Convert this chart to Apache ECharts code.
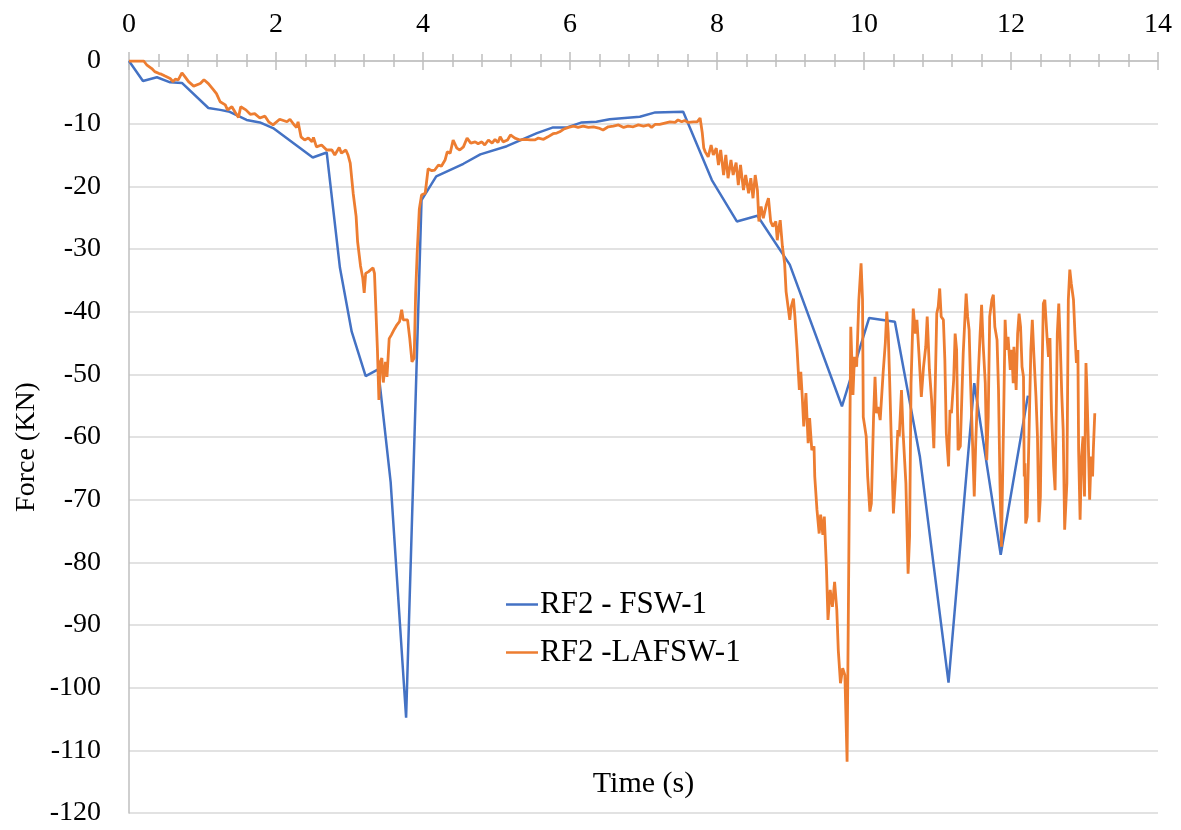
<!DOCTYPE html>
<html>
<head>
<meta charset="utf-8">
<script src="https://cdn.jsdelivr.net/npm/echarts@6/dist/echarts.min.js"></script>
<style>html,body{margin:0;padding:0;background:#fff}#c{width:1181px;height:830px}</style>
</head>
<body>
<div id="c"></div>
<script>
// ---- data ----
var seriesNames = ['RF2 - FSW-1', 'RF2 -LAFSW-1'];
var xTicks = [0, 2, 4, 6, 8, 10, 12, 14];
var yTicks = [0, -10, -20, -30, -40, -50, -60, -70, -80, -90, -100, -110, -120];
var xTitle = 'Time (s)';
var yTitle = 'Force (KN)';

var fswTime = [0,0.19,0.38,0.56,0.72,1.08,1.24,1.37,1.6,1.78,1.96,2.5,2.69,2.87,3.03,3.22,3.39,3.56,3.77,3.98,4.18,4.55,4.78,5.14,5.55,5.77,5.96,6.16,6.36,6.54,6.95,7.16,7.54,7.93,8.27,8.55,8.99,9.7,10.07,10.42,10.76,11.15,11.5,11.86,12.23];
var fswForce = [0,-3.2,-2.6,-3.4,-3.5,-7.5,-7.8,-8.1,-9.4,-9.8,-10.7,-15.4,-14.6,-33.0,-43.2,-50.3,-49.2,-67.2,-104.8,-22.2,-18.4,-16.4,-14.9,-13.6,-11.5,-10.6,-10.6,-9.8,-9.7,-9.3,-8.9,-8.2,-8.1,-19.0,-25.6,-24.7,-32.5,-55.1,-41.0,-41.6,-63.1,-99.2,-51.4,-78.8,-53.4];

var lafswTime = [0,0.2,0.24,0.31,0.35,0.41,0.44,0.49,0.56,0.6,0.63,0.67,0.72,0.76,0.81,0.88,0.97,1.02,1.08,1.15,1.19,1.24,1.31,1.34,1.4,1.44,1.49,1.52,1.59,1.65,1.71,1.78,1.85,1.9,1.96,2.05,2.1,2.15,2.19,2.24,2.28,2.3,2.34,2.39,2.44,2.49,2.51,2.55,2.62,2.69,2.76,2.8,2.86,2.89,2.95,2.98,3.01,3.05,3.09,3.11,3.13,3.15,3.18,3.2,3.22,3.26,3.32,3.34,3.36,3.38,3.4,3.42,3.44,3.46,3.49,3.51,3.54,3.57,3.61,3.64,3.68,3.71,3.73,3.79,3.82,3.85,3.88,3.9,3.92,3.95,3.98,4.03,4.07,4.12,4.16,4.21,4.25,4.3,4.33,4.37,4.41,4.46,4.5,4.55,4.6,4.65,4.71,4.75,4.8,4.84,4.89,4.94,4.98,5.02,5.05,5.09,5.15,5.19,5.25,5.32,5.39,5.46,5.52,5.57,5.64,5.7,5.77,5.82,5.86,5.91,5.98,6.05,6.11,6.18,6.25,6.32,6.39,6.45,6.52,6.59,6.66,6.73,6.79,6.86,6.93,7.0,7.07,7.11,7.16,7.22,7.29,7.36,7.43,7.47,7.52,7.56,7.61,7.68,7.73,7.77,7.8,7.82,7.84,7.88,7.92,7.95,7.99,8.02,8.05,8.09,8.12,8.15,8.19,8.22,8.26,8.29,8.32,8.36,8.39,8.43,8.46,8.49,8.52,8.55,8.57,8.6,8.63,8.67,8.7,8.73,8.76,8.8,8.82,8.84,8.86,8.89,8.92,8.94,8.96,8.99,9.01,9.04,9.06,9.09,9.12,9.14,9.16,9.18,9.21,9.24,9.26,9.29,9.32,9.33,9.36,9.39,9.41,9.44,9.46,9.49,9.51,9.54,9.57,9.6,9.63,9.65,9.68,9.71,9.74,9.77,9.82,9.85,9.87,9.9,9.93,9.96,9.98,9.99,10.03,10.05,10.08,10.1,10.13,10.15,10.17,10.19,10.22,10.26,10.29,10.31,10.33,10.35,10.37,10.4,10.43,10.46,10.48,10.51,10.53,10.57,10.6,10.62,10.64,10.67,10.7,10.72,10.75,10.78,10.81,10.84,10.86,10.89,10.92,10.95,10.97,10.99,11.01,11.03,11.05,11.08,11.1,11.12,11.15,11.17,11.19,11.22,11.24,11.26,11.28,11.31,11.33,11.35,11.37,11.39,11.41,11.43,11.45,11.48,11.5,11.52,11.55,11.58,11.6,11.62,11.65,11.67,11.69,11.71,11.74,11.76,11.78,11.81,11.83,11.85,11.87,11.9,11.92,11.94,11.96,11.99,12.01,12.03,12.04,12.07,12.09,12.11,12.13,12.15,12.17,12.18,12.19,12.2,12.22,12.24,12.27,12.29,12.31,12.34,12.36,12.38,12.4,12.42,12.44,12.46,12.49,12.51,12.53,12.55,12.58,12.6,12.62,12.63,12.65,12.67,12.69,12.71,12.73,12.76,12.78,12.8,12.82,12.85,12.87,12.89,12.91,12.92,12.94,12.96,12.98,13.0,13.02,13.03,13.05,13.07,13.09,13.11,13.12,13.14];
var lafswForce = [0,0,-0.6,-1.2,-1.7,-2.0,-2.1,-2.4,-2.8,-3.3,-2.9,-3.0,-1.9,-2.5,-3.3,-4.0,-3.6,-3.0,-3.6,-4.6,-5.2,-6.5,-7.0,-7.8,-7.3,-8.1,-9.0,-7.3,-7.8,-8.5,-8.4,-9.1,-8.8,-9.7,-10.2,-9.3,-9.5,-9.7,-9.3,-10.1,-10.6,-9.7,-12.1,-12.6,-12.3,-12.9,-12.2,-13.7,-13.4,-14.2,-14.2,-15.0,-13.8,-14.7,-14.2,-15.0,-16.3,-21.1,-24.8,-28.8,-29.1,-32.7,-34.6,-37.0,-33.9,-33.6,-33.0,-33.9,-40.0,-46.1,-54.1,-48.0,-47.4,-51.3,-48.0,-50.4,-44.3,-43.7,-42.8,-42.2,-41.6,-39.7,-41.3,-41.3,-44.3,-48.0,-47.4,-37.0,-30.9,-23.6,-21.4,-21.1,-17.2,-17.5,-17.4,-16.6,-16.8,-15.8,-14.5,-14.7,-12.6,-13.9,-14.2,-13.7,-12.3,-13.1,-12.9,-13.2,-12.9,-13.4,-12.6,-13.1,-12.5,-13.0,-12.1,-12.9,-12.6,-11.8,-12.3,-12.6,-12.5,-12.6,-12.6,-12.3,-12.5,-12.1,-11.6,-11.5,-11.3,-10.9,-10.6,-10.4,-10.6,-10.4,-10.6,-10.5,-10.7,-11.0,-10.5,-10.4,-10.2,-10.6,-10.4,-10.5,-10.2,-10.4,-10.2,-10.6,-10.1,-10.1,-9.9,-9.7,-9.8,-9.4,-9.7,-9.5,-9.8,-9.7,-9.7,-9.1,-11.5,-13.9,-14.5,-15.3,-13.4,-15.0,-13.9,-16.6,-14.2,-18.2,-15.0,-18.7,-15.8,-18.2,-16.2,-19.8,-16.6,-20.6,-18.2,-21.1,-18.7,-21.9,-18.2,-20.6,-25.6,-23.2,-25.1,-23.0,-21.9,-25.6,-26.4,-25.6,-28.6,-26.7,-25.4,-29.6,-32.3,-36.8,-36.5,-41.3,-39.2,-37.9,-40.8,-46.1,-52.5,-49.6,-53.6,-58.3,-53.0,-61.0,-57.0,-62.1,-61.5,-66.3,-71.6,-75.4,-72.4,-75.6,-72.7,-81.2,-89.2,-84.4,-87.1,-83.1,-87.6,-94.0,-99.3,-96.9,-98.0,-111.8,-42.4,-53.3,-47.2,-48.8,-38.1,-32.3,-38.1,-56.8,-59.9,-66.3,-71.9,-70.6,-56.8,-50.4,-56.2,-55.2,-57.3,-49.8,-45.0,-40.0,-43.5,-51.4,-59.9,-72.2,-66.3,-58.9,-59.9,-52.5,-58.9,-67.4,-81.8,-75.9,-51.4,-39.5,-43.5,-41.3,-47.2,-53.6,-48.8,-45.6,-40.8,-49.3,-54.1,-61.8,-51.4,-40.3,-39.2,-36.3,-40.8,-41.3,-47.7,-59.4,-64.7,-55.7,-56.2,-50.9,-43.5,-46.1,-62.1,-61.5,-54.1,-46.6,-41.8,-37.1,-40.8,-42.9,-51.4,-62.1,-69.5,-61.0,-51.4,-43.5,-38.9,-45.0,-51.4,-63.7,-56.8,-40.8,-38.1,-37.3,-42.4,-44.5,-52.5,-67.4,-77.5,-56.8,-41.3,-46.1,-44.0,-49.3,-46.1,-51.4,-45.6,-52.5,-43.5,-40.3,-42.4,-48.8,-50.4,-66.3,-64.2,-73.8,-72.7,-62.1,-46.1,-41.3,-46.6,-53.6,-59.9,-73.6,-69.5,-51.4,-38.7,-38.1,-44.0,-47.2,-44.2,-55.7,-64.7,-68.5,-52.5,-43.5,-38.7,-45.0,-53.0,-58.9,-74.8,-67.4,-38.1,-33.3,-35.5,-38.1,-43.5,-48.2,-46.1,-62.1,-73.2,-63.1,-59.9,-69.5,-48.2,-51.4,-59.9,-70.0,-63.1,-66.3,-62.1,-56.2];

function zip(xs, ys) { return xs.map(function (x, i) { return [x, ys[i]]; }); }

var FONT = "'Liberation Serif','Times New Roman',serif";
var chart = echarts.init(document.getElementById('c'), null, { renderer: 'canvas' });
var xMin = xTicks[0], xMax = xTicks[xTicks.length - 1], xStep = xTicks[1] - xTicks[0];
var yMin = yTicks[yTicks.length - 1], yMax = yTicks[0], yStep = yTicks[0] - yTicks[1];

var option = {
  animation: false,
  backgroundColor: '#ffffff',
  grid: { left: 129, right: 23, top: 61, bottom: 17, containLabel: false, outerBoundsMode: 'none' },
  legend: {
    orient: 'vertical',
    left: 501, top: 584,
    icon: 'rect',
    itemWidth: 32, itemHeight: 2.5, itemGap: 17,
    data: seriesNames,
    textStyle: { fontFamily: FONT, fontSize: 31, color: '#000', lineHeight: 31, padding: [0, 0, 0, -3] }
  },
  xAxis: [{
    type: 'value', position: 'top', min: xMin, max: xMax, interval: xStep,
    axisLine: { show: true, lineStyle: { color: '#BFBFBF', width: 1.5 } },
    axisTick: { show: true, inside: false, length: 9, lineStyle: { color: '#BFBFBF', width: 1.5 } },
    minorTick: { show: true, splitNumber: 5, length: 7, lineStyle: { color: '#BFBFBF', width: 1.5 } },
    axisLabel: { fontFamily: FONT, fontSize: 28, color: '#000', margin: 22 },
    splitLine: { show: false }
  }, {
    type: 'value', position: 'top', offset: 0, min: xMin, max: xMax, interval: xStep,
    axisLine: { show: false },
    axisTick: { show: true, inside: true, length: 9, lineStyle: { color: '#BFBFBF', width: 1.5 } },
    minorTick: { show: true, splitNumber: 5, length: 6, lineStyle: { color: '#BFBFBF', width: 1.5 } },
    axisLabel: { show: false },
    splitLine: { show: false }
  }],
  yAxis: {
    type: 'value', min: yMin, max: yMax, interval: yStep,
    axisLine: { show: true, lineStyle: { color: '#BFBFBF', width: 1.5 } },
    axisTick: { show: false },
    axisLabel: { fontFamily: FONT, fontSize: 28, color: '#000', margin: 28 },
    splitLine: { show: true, lineStyle: { color: '#D9D9D9', width: 1.5 } }
  },
  graphic: [{
    type: 'text', x: 643.5, y: 784,
    style: { text: xTitle, fontFamily: FONT, fontSize: 30, fill: '#000', textAlign: 'center', textVerticalAlign: 'middle' }
  }, {
    type: 'text', x: 27, y: 447, rotation: Math.PI / 2,
    style: { text: yTitle, fontFamily: FONT, fontSize: 28, fill: '#000', textAlign: 'center', textVerticalAlign: 'middle' }
  }],
  series: [{
    name: seriesNames[0], type: 'line', xAxisIndex: 0, symbol: 'none', smooth: false,
    lineStyle: { color: '#4472C4', width: 2.5 }, itemStyle: { color: '#4472C4' },
    data: zip(fswTime, fswForce), z: 2
  }, {
    name: seriesNames[1], type: 'line', xAxisIndex: 0, symbol: 'none', smooth: false,
    lineStyle: { color: '#ED7D31', width: 2.8 }, itemStyle: { color: '#ED7D31' },
    data: zip(lafswTime, lafswForce), z: 3
  }]
};
chart.setOption(option);
</script>
</body>
</html>
